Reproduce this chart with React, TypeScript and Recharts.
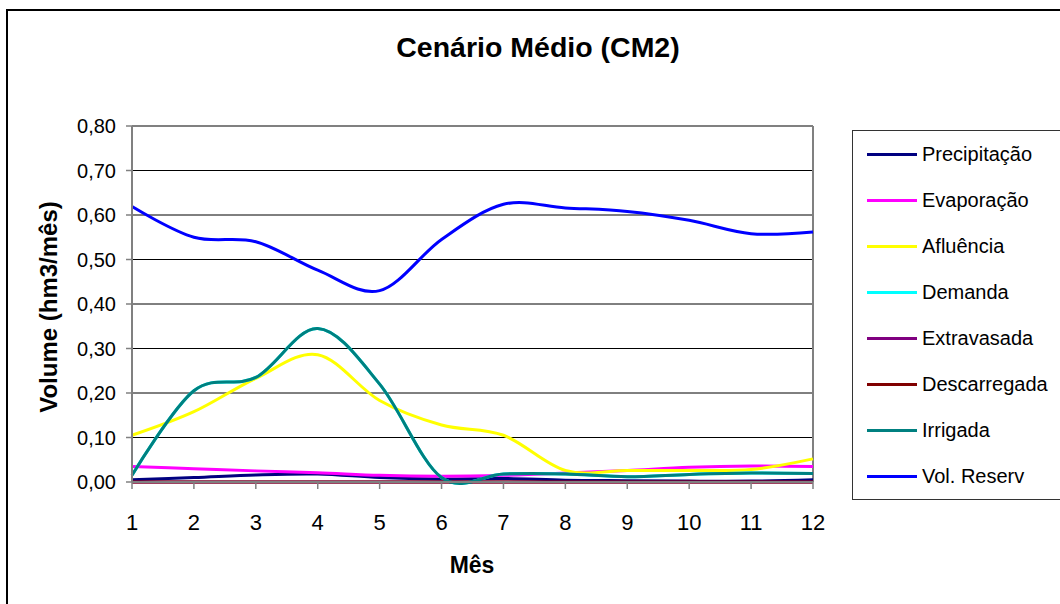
import React from 'react';
import { LineChart, Line, XAxis, YAxis, CartesianGrid, ReferenceLine } from 'recharts';

const FONT = '"Liberation Sans", Arial, sans-serif';

// monthly balance of the reservoir, hm3/month
const meses = [1, 2, 3, 4, 5, 6, 7, 8, 9, 10, 11, 12];
const precipitacao = [0.005, 0.01, 0.016, 0.018, 0.01, 0.007, 0.008, 0.004, 0.003, 0.002, 0.002, 0.005];
const evaporacao = [0.035, 0.03, 0.025, 0.021, 0.015, 0.013, 0.015, 0.02, 0.026, 0.033, 0.036, 0.035];
const afluencia = [0.105, 0.158, 0.233, 0.286, 0.183, 0.128, 0.105, 0.026, 0.026, 0.026, 0.028, 0.052];
const demanda = [0.015, 0.205, 0.235, 0.345, 0.22, 0.01, 0.018, 0.018, 0.012, 0.017, 0.02, 0.019];
const extravasada = [0, 0, 0, 0, 0, 0, 0, 0, 0, 0, 0, 0];
const descarregada = [0, 0, 0, 0, 0, 0, 0, 0, 0, 0, 0, 0];
const irrigada = [0.015, 0.205, 0.235, 0.345, 0.22, 0.01, 0.018, 0.018, 0.012, 0.017, 0.02, 0.019];
const volReserv = [0.619, 0.55, 0.54, 0.476, 0.43, 0.545, 0.624, 0.616, 0.608, 0.588, 0.558, 0.562];

const yTicks = [0, 0.1, 0.2, 0.3, 0.4, 0.5, 0.6, 0.7, 0.8];

const series = [
  { key: 'precipitacao', name: 'Precipitação', color: '#000080', values: precipitacao },
  { key: 'evaporacao', name: 'Evaporação', color: '#ff00ff', values: evaporacao },
  { key: 'afluencia', name: 'Afluência', color: '#ffff00', values: afluencia },
  { key: 'demanda', name: 'Demanda', color: '#00ffff', values: demanda },
  { key: 'extravasada', name: 'Extravasada', color: '#800080', values: extravasada },
  { key: 'descarregada', name: 'Descarregada', color: '#800000', values: descarregada },
  { key: 'irrigada', name: 'Irrigada', color: '#008080', values: irrigada },
  { key: 'volReserv', name: 'Vol. Reserv', color: '#0000ff', values: volReserv },
];

const data = meses.map((mes, i) => {
  const row: Record<string, number> = { mes };
  series.forEach((s) => {
    row[s.key] = s.values[i];
  });
  return row;
});

// cardinal spline with tension 0 (Catmull-Rom), gives the spreadsheet-style smoothed line
function smoothCurve(context: any) {
  const k = 1 / 6;
  let x0 = NaN, y0 = NaN, x1 = NaN, y1 = NaN, x2 = NaN, y2 = NaN, n = 0;
  const seg = (x: number, y: number) =>
    context.bezierCurveTo(
      x1 + k * (x2 - x0), y1 + k * (y2 - y0),
      x2 + k * (x1 - x), y2 + k * (y1 - y),
      x2, y2
    );
  return {
    areaStart() {},
    areaEnd() {},
    lineStart() {
      x0 = x1 = x2 = y0 = y1 = y2 = NaN;
      n = 0;
    },
    lineEnd() {
      if (n === 2) context.lineTo(x2, y2);
      else if (n === 3) seg(x1, y1);
    },
    point(x: number, y: number) {
      if (n === 0) {
        n = 1;
        context.moveTo(x, y);
      } else if (n === 1) {
        n = 2;
        x1 = x;
        y1 = y;
      } else {
        n = 3;
        seg(x, y);
      }
      x0 = x1; x1 = x2; x2 = x;
      y0 = y1; y1 = y2; y2 = y;
    },
  };
}

const fmt = (v: number) => v.toFixed(2).replace('.', ',');

export default function App() {
  return (
    <div
      style={{
        position: 'absolute',
        left: 0,
        top: 0,
        width: 1060,
        height: 604,
        overflow: 'hidden',
        background: '#fff',
        fontFamily: FONT,
      }}
    >
      <div
        style={{
          position: 'absolute',
          left: 6,
          top: 9,
          width: 1100,
          height: 700,
          border: '2px solid #000',
          boxSizing: 'border-box',
        }}
      />
      <div style={{ position: 'absolute', left: 0, top: 0 }}>
        <LineChart width={1060} height={604} data={data} margin={{ top: 126, right: 247, bottom: 82, left: 72 }}>
          <CartesianGrid horizontal vertical={false} stroke="#000" strokeWidth={1} />
          <ReferenceLine y={0.8} stroke="#808080" strokeWidth={2} />
          <ReferenceLine x={12} stroke="#808080" strokeWidth={2} />
          <XAxis
            dataKey="mes"
            height={40}
            interval={0}
            tickSize={7}
            tickMargin={25}
            tick={{ fontSize: 22, fill: '#000', fontFamily: FONT }}
            axisLine={{ stroke: '#808080', strokeWidth: 2 }}
            tickLine={{ stroke: '#808080', strokeWidth: 1.5 }}
          />
          <YAxis
            width={60}
            domain={[0, 0.8]}
            ticks={yTicks}
            interval={0}
            tickSize={6}
            tickMargin={10}
            tickFormatter={fmt}
            tick={{ fontSize: 20, fill: '#000', fontFamily: FONT }}
            axisLine={{ stroke: '#808080', strokeWidth: 2 }}
            tickLine={{ stroke: '#808080', strokeWidth: 1.5 }}
          />
          {series.map((s) => (
            <Line
              key={s.key}
              dataKey={s.key}
              name={s.name}
              type={smoothCurve as any}
              stroke={s.color}
              strokeWidth={3}
              dot={false}
              activeDot={false}
              isAnimationActive={false}
            />
          ))}
        </LineChart>
      </div>
      <svg
        width={1060}
        height={604}
        style={{ position: 'absolute', left: 0, top: 0, pointerEvents: 'none' }}
        fontFamily={FONT}
      >
        <text x={538} y={57} textAnchor="middle" fontSize={28.5} fontWeight="bold" fill="#000">
          Cenário Médio (CM2)
        </text>
        <text
          x={57}
          y={307}
          textAnchor="middle"
          fontSize={24}
          fontWeight="bold"
          fill="#000"
          transform="rotate(-90 57 307)"
        >
          Volume (hm3/mês)
        </text>
        <text x={472} y={573} textAnchor="middle" fontSize={23} fontWeight="bold" fill="#000">
          Mês
        </text>
      </svg>
      {/* legend box, open on the right where it runs past the frame */}
      <div
        style={{
          position: 'absolute',
          left: 852,
          top: 130,
          width: 400,
          height: 370,
          boxSizing: 'border-box',
          borderTop: '1.3px solid #333',
          borderLeft: '1.3px solid #333',
          borderBottom: '1.3px solid #333',
          background: '#fff',
        }}
      >
        {series.map((s, i) => (
          <div
            key={s.key}
            style={{
              position: 'absolute',
              left: 14,
              top: 23 + i * 46 - 12,
              height: 24,
              display: 'flex',
              alignItems: 'center',
              whiteSpace: 'nowrap',
            }}
          >
            <span style={{ display: 'inline-block', width: 50, height: 3, background: s.color }} />
            <span style={{ marginLeft: 5, fontSize: 20, color: '#000', lineHeight: '24px' }}>{s.name}</span>
          </div>
        ))}
      </div>
    </div>
  );
}
